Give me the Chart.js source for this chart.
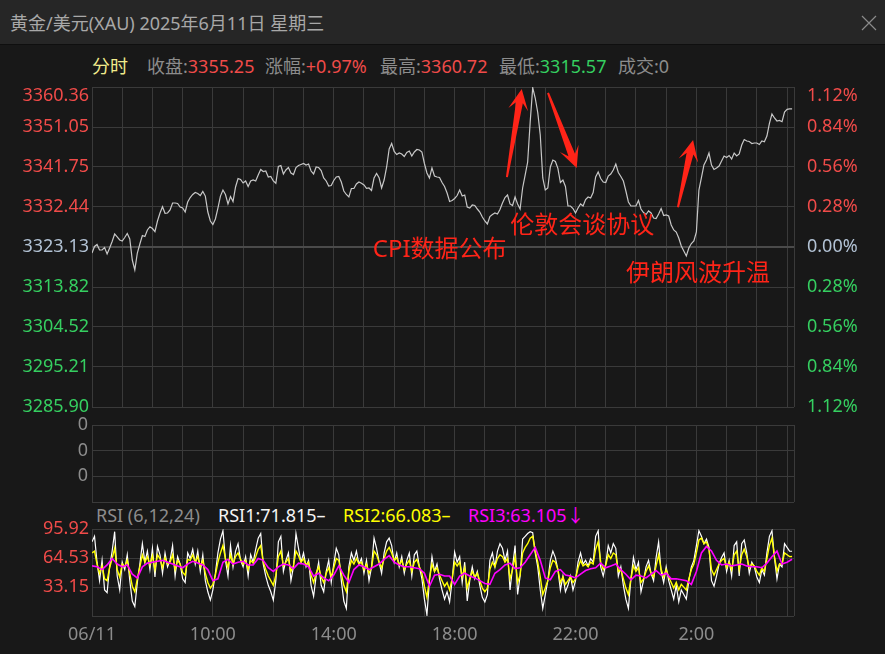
<!DOCTYPE html>
<html>
<head>
<meta charset="utf-8">
<script src="https://cdn.jsdelivr.net/npm/chart.js@4.4.1/dist/chart.umd.min.js"></script>
<style>
  body { margin: 0; width: 885px; height: 654px; overflow: hidden; position: relative;
         background: #181818; font-family: "Noto Sans", "Noto Sans CJK SC", sans-serif; }
  .titlebar { position: absolute; left: 0; top: 0; width: 885px; height: 44px; background: #262626; border-bottom: 1px solid #0f0f0f; }
  .title { position: absolute; left: 10px; top: 10px; font-size: 18px; line-height: 26px; color: #a8a8a8; white-space: nowrap; }
  .close { position: absolute; left: 861px; top: 15px; }
  .info, .legend { position: absolute; font-size: 18px; line-height: 26px; white-space: nowrap; }
  .info { top: 53px; }
  .legend { top: 502px; }
  .lbl { color: #8c8c8c; }
  .up { color: #f04b49; }
  .down { color: #35cf60; }
  canvas { position: absolute; left: 0; }
</style>
</head>
<body>
<div class="titlebar">
  <div class="title">黄金/美元(XAU) 2025年6月11日 星期三</div>
  <svg class="close" width="16" height="16"><path d="M1 1 L15 15 M15 1 L1 15" stroke="#8a8a8a" stroke-width="1.2"/></svg>
</div>

<div class="info" style="left:92px;color:#f0eb8c">分时</div>
<div class="info" style="left:147px"><span class="lbl">收盘:</span><span class="up">3355.25</span></div>
<div class="info" style="left:265px"><span class="lbl">涨幅:</span><span class="up">+0.97%</span></div>
<div class="info" style="left:380px"><span class="lbl">最高:</span><span class="up">3360.72</span></div>
<div class="info" style="left:499px"><span class="lbl">最低:</span><span class="down">3315.57</span></div>
<div class="info" style="left:618px"><span class="lbl">成交:0</span></div>

<div class="legend" style="left:96px;color:#8c8c8c">RSI (6,12,24)</div>
<div class="legend" style="left:218px;color:#f4f4f4">RSI1:71.815–</div>
<div class="legend" style="left:343px;color:#ffff00">RSI2:66.083–</div>
<div class="legend" style="left:468px;color:#ff00ff">RSI3:63.105↓</div>

<canvas id="priceChart" width="885" height="340" style="top:77px"></canvas>
<canvas id="volChart" width="885" height="97" style="top:415px"></canvas>
<canvas id="rsiChart" width="885" height="135" style="top:519px"></canvas>

<script>
// 时间轴：06:00 起，小时
const X_MAX = 23.23;
const hourTicks = [0,1,2,3,4,5,6,7,8,9,10,11,12,13,14,15,16,17,18,19,20,21,22,23,X_MAX];
const labelHours = [0, 4, 8, 12, 16, 20];
const timeLabels = ['06/11', '10:00', '14:00', '18:00', '22:00', '2:00'];

// 价格刻度
const priceTicks = [3285.90, 3295.21, 3304.52, 3313.82, 3323.13, 3332.44, 3341.75, 3351.05, 3360.36];
const pctLabels = ['1.12%', '0.84%', '0.56%', '0.28%', '0.00%', '0.28%', '0.56%', '0.84%', '1.12%'];
const PREV_CLOSE = 3323.13;

// 分时价格，每 5 分钟一个点
const PRICE_STEP_MIN = 5;
const price = [
  3321.73,3323.25,3323.71,3322.43,3322.43,3323.01,3321.50,3322.90,3324.41,3326.16,
  3325.46,3324.76,3324.53,3325.34,3326.27,3324.99,3320.10,3317.80,3321.73,3323.83,
  3325.81,3325.57,3327.09,3327.85,3327.43,3326.69,3329.18,3331.04,3332.51,3330.97,
  3331.04,3331.74,3333.37,3333.37,3333.25,3332.44,3332.20,3331.27,3333.60,3334.65,
  3335.35,3335.81,3335.58,3335.11,3336.04,3334.98,3331.27,3329.18,3328.37,3329.65,
  3332.20,3334.98,3336.39,3335.35,3333.14,3334.88,3333.72,3337.09,3339.07,3338.84,
  3338.02,3338.49,3337.21,3338.49,3338.72,3338.49,3339.88,3341.16,3340.70,3340.81,
  3339.42,3339.53,3338.49,3337.95,3341.86,3342.09,3340.12,3341.05,3341.63,3340.35,
  3340.00,3341.63,3342.09,3342.33,3342.56,3342.21,3342.44,3340.81,3340.12,3341.75,
  3341.63,3340.93,3339.19,3338.49,3337.32,3337.44,3338.60,3339.42,3339.53,3338.26,
  3336.16,3335.35,3334.77,3336.74,3336.74,3337.79,3338.26,3337.95,3337.56,3336.79,
  3336.86,3336.28,3339.19,3340.23,3339.26,3336.86,3338.72,3341.75,3345.93,3347.21,
  3345.35,3344.65,3345.00,3344.77,3344.19,3345.12,3345.47,3344.31,3345.24,3345.82,
  3345.70,3345.24,3342.56,3340.35,3339.19,3341.52,3339.65,3339.42,3339.30,3338.14,
  3337.21,3335.70,3333.72,3333.95,3334.42,3335.11,3336.39,3334.98,3335.23,3332.44,
  3332.20,3332.90,3332.79,3331.97,3331.27,3330.11,3329.18,3328.48,3330.23,3330.69,
  3331.04,3330.81,3331.86,3333.37,3334.65,3335.23,3333.14,3332.79,3334.77,3333.14,
  3331.97,3336.86,3339.88,3342.91,3352.22,3360.20,3357.80,3354.43,3349.19,3339.19,
  3336.39,3336.86,3341.75,3343.37,3343.03,3341.44,3338.14,3338.72,3337.21,3332.67,
  3332.67,3332.09,3331.04,3332.20,3333.14,3332.67,3334.18,3334.77,3334.53,3335.81,
  3339.42,3340.58,3339.07,3338.26,3338.14,3339.65,3340.12,3341.05,3342.44,3340.47,
  3339.53,3338.49,3336.16,3333.60,3332.67,3332.67,3332.67,3333.95,3331.97,3331.16,
  3330.69,3331.51,3331.04,3329.88,3329.76,3330.81,3332.09,3330.46,3330.58,3330.34,
  3328.25,3327.09,3326.62,3325.22,3323.36,3322.20,3321.04,3322.90,3323.94,3324.53,
  3326.62,3336.39,3339.30,3342.21,3343.37,3345.00,3342.21,3341.16,3341.51,3341.98,
  3343.14,3344.31,3343.96,3344.42,3343.61,3345.00,3344.31,3344.77,3346.86,3348.14,
  3347.79,3347.68,3347.21,3347.33,3347.33,3346.98,3347.79,3347.63,3348.96,3351.91,
  3354.08,3353.15,3352.45,3352.57,3352.29,3354.54,3355.17,3355.25,3355.25
];

// RSI(6,12,24)
const RSI_STEP_MIN = 5;
const RSI3_STEP_MIN = 10;
const rsiTicks = [1.77, 33.15, 64.53, 95.92];
const rsi1 = [
  82,88,60,40,62,30,27,55,72,93, 45,30,60,52,68,40,18,12,38,58,
  80,60,72,52,75,44,77,68,48,70, 55,62,78,45,66,58,42,38,70,64,
  74,58,72,50,68,40,28,19,30,48, 70,85,94,62,45,78,55,72,80,62,
  55,66,45,68,60,74,86,91,58,45, 35,28,19,40,82,88,50,62,70,40,
  55,91,75,60,70,55,62,35,23,45, 60,35,28,50,62,38,58,75,68,40,
  18,10,55,70,62,72,58,64,48,62, 40,55,86,75,60,48,70,82,86,78,
  60,70,55,66,48,62,70,45,68,72, 55,42,20,3,40,66,50,58,42,30,
  20,28,17,40,71,60,66,38,60,18, 40,55,42,50,35,22,17,25,62,70,
  55,72,80,75,62,72,30,55,78,25, 45,85,88,91,93,92,70,55,30,10,
  25,40,62,72,65,52,30,45,28,35, 45,30,40,60,70,58,62,56,64,60,
  88,94,55,45,58,78,70,80,75,45, 55,35,20,10,42,65,52,60,28,40,
  55,62,48,40,65,82,50,38,55,40, 30,20,35,17,30,25,20,40,55,62,
  78,94,88,80,85,76,40,34,45,58, 65,70,50,62,45,78,82,45,80,84,
  70,48,60,55,44,38,52,46,70,88, 94,65,42,58,55,80,76,72,71.82
];
const rsi2 = [
  70,72,58,48,56,42,40,54,64,75, 52,44,58,55,62,48,34,28,42,55,
  68,60,66,57,67,52,68,64,54,65, 58,60,68,52,62,58,49,46,63,62,
  68,60,66,55,62,48,38,32,36,46, 60,70,78,64,54,68,58,66,70,63,
  58,62,52,62,59,66,74,78,60,52, 45,40,35,46,66,72,56,60,64,50,
  56,72,67,60,64,57,60,46,38,48, 55,44,38,48,54,44,54,64,62,48,
  35,28,50,62,58,64,58,60,52,58, 48,54,72,68,60,54,64,72,76,70,
  62,65,57,62,52,58,62,50,60,63, 55,48,34,22,42,58,50,54,46,40,
  34,38,30,42,60,56,60,44,54,32, 42,50,44,48,40,32,28,32,52,60,
  55,64,68,66,60,64,42,52,66,38, 46,70,76,80,86,88,72,60,44,25,
  32,40,54,62,60,52,38,44,36,40, 44,38,42,54,62,56,58,55,60,58,
  74,82,60,52,57,68,64,70,68,50, 52,42,32,25,42,56,50,54,38,42,
  50,56,48,44,56,68,52,44,52,44, 38,32,38,30,36,33,30,42,52,58,
  70,84,86,80,82,74,52,46,52,58, 62,64,54,60,52,68,72,52,68,74,
  66,54,58,56,50,46,54,50,64,78, 86,66,50,58,58,70,68,66,66.08
];
const rsi3 = [
  56,55,52,57,64,58,55,57,47,43, 55,59,60,61,62,60,58,56,54,58,
  61,59,57,52,40,42,60,63,58,60, 61,57,57,64,62,54,50,55,58,57,
  53,59,58,55,45,48,43,40,46,56, 46,38,52,57,55,52,55,58,63,67,
  60,57,55,55,54,53,48,34,46,47, 45,45,36,45,48,45,43,40,37,36,
  48,52,57,59,53,54,60,68,76,62, 43,41,50,52,46,45,43,47,51,53,
  54,59,54,56,58,52,47,41,46,45, 43,47,51,46,48,42,42,41,40,36,
  50,70,77,72,62,57,58,56,57,58, 56,55,55,54,59,66,72,58,60,63.11
];

// 事件标注（小时, 价格）
const notes = [
  { text: 'CPI数据公布', hour: 9.29, price: 3322.4 },
  { text: '伦敦会谈协议', hour: 13.84, price: 3328.0 },
  { text: '伊朗风波升温', hour: 17.67, price: 3316.85 }
];
const arrows = [
  { from: [13.73, 3339.4], to: [14.22, 3359.9] },
  { from: [15.09, 3359.0], to: [16.04, 3341.5] },
  { from: [19.39, 3332.4], to: [19.89, 3348.0] }
];

const GRID = '#3a3a3a';
const RED = '#f04b49';
const GREEN = '#35cf60';
const ZERO = '#b2c2d4';
const GRAY = '#8c8c8c';
const NOTE_RED = '#ff2418';
const FONT = '"Noto Sans", "Noto Sans CJK SC", sans-serif';

const toPoints = (arr, stepMin) => arr.map((v, i) => ({ x: i * stepMin / 60, y: v }));
const setTicks = values => scale => { scale.ticks = values.map(v => ({ value: v })); };
const noPad = s => { s.paddingTop = 0; s.paddingBottom = 0; s.paddingLeft = 0; s.paddingRight = 0; };

function xScale(showLabels) {
  return {
    type: 'linear', min: 0, max: X_MAX,
    afterBuildTicks: setTicks(hourTicks),
    grid: { color: GRID, drawTicks: false },
    border: { display: false },
    ticks: {
      display: showLabels, autoSkip: false, maxRotation: 0, padding: 8,
      color: GRAY, font: { family: FONT, size: 18 },
      callback: v => { const k = labelHours.indexOf(v); return k >= 0 ? timeLabels[k] : ''; }
    },
    afterFit: s => { s.height = showLabels ? 38 : 0; noPad(s); }
  };
}

const eventMarks = {
  id: 'eventMarks',
  afterDatasetsDraw(chart) {
    const { ctx, scales: { x, y } } = chart;
    ctx.save();
    ctx.fillStyle = NOTE_RED;
    arrows.forEach(a => {
      const x0 = x.getPixelForValue(a.from[0]), y0 = y.getPixelForValue(a.from[1]);
      const x1 = x.getPixelForValue(a.to[0]), y1 = y.getPixelForValue(a.to[1]);
      const len = Math.hypot(x1 - x0, y1 - y0);
      const ux = (x1 - x0) / len, uy = (y1 - y0) / len;
      const shape = [[0, -1], [len - 14, -3.5], [len - 21, -10], [len, 0], [len - 21, 10], [len - 14, 3.5], [0, 1]];
      ctx.beginPath();
      shape.forEach(([u, v], k) => {
        const px = x0 + ux * u - uy * v, py = y0 + uy * u + ux * v;
        if (k) ctx.lineTo(px, py); else ctx.moveTo(px, py);
      });
      ctx.closePath();
      ctx.fill();
    });
    ctx.font = '24px ' + FONT;
    ctx.textBaseline = 'middle';
    notes.forEach(n => ctx.fillText(n.text, x.getPixelForValue(n.hour), y.getPixelForValue(n.price)));
    ctx.restore();
  }
};

const base = {
  responsive: false,
  animation: false,
  events: [],
  plugins: { legend: { display: false }, tooltip: { enabled: false } }
};

// 价格走势
new Chart(document.getElementById('priceChart'), {
  type: 'line',
  data: {
    datasets: [{
      data: toPoints(price, PRICE_STEP_MIN),
      borderColor: '#c8c8c8', borderWidth: 1.2, pointRadius: 0, tension: 0
    }]
  },
  options: {
    ...base,
    layout: { padding: { top: 10, bottom: 10 } },
    scales: {
      x: xScale(false),
      y: {
        position: 'left', min: priceTicks[0], max: priceTicks[8],
        afterBuildTicks: setTicks(priceTicks),
        border: { display: false },
        grid: {
          drawTicks: false,
          color: c => c.tick && c.tick.value === PREV_CLOSE ? '#4a4a4a' : GRID,
          lineWidth: c => c.tick && c.tick.value === PREV_CLOSE ? 2 : 1
        },
        ticks: {
          autoSkip: false, padding: 3, font: { family: FONT, size: 18, lineHeight: 1 },
          color: c => c.index < 4 ? GREEN : c.index === 4 ? ZERO : RED,
          callback: (v, i) => i === 8 ? ['', v.toFixed(2)] : v.toFixed(2)
        },
        afterFit: s => { s.width = 92; noPad(s); }
      },
      pct: {
        position: 'right', min: priceTicks[0], max: priceTicks[8],
        afterBuildTicks: setTicks(priceTicks),
        border: { display: false },
        grid: { display: false },
        ticks: {
          autoSkip: false, padding: 5, font: { family: FONT, size: 18, lineHeight: 1 },
          color: c => c.index < 4 ? GREEN : c.index === 4 ? ZERO : RED,
          callback: (v, i) => i === 8 ? ['', pctLabels[i]] : pctLabels[i]
        },
        afterFit: s => { s.width = 91; noPad(s); }
      }
    }
  },
  plugins: [eventMarks]
});

// 成交量（空）
new Chart(document.getElementById('volChart'), {
  type: 'line',
  data: { datasets: [] },
  options: {
    ...base,
    layout: { padding: { top: 10, bottom: 10, right: 91 } },
    scales: {
      x: xScale(false),
      y: {
        position: 'left', min: 0, max: 3,
        afterBuildTicks: setTicks([0, 1, 2, 3]),
        border: { display: false },
        grid: { color: GRID, drawTicks: false },
        ticks: { autoSkip: false, padding: 4, color: GRAY, font: { family: FONT, size: 18 }, callback: v => v === 0 ? '' : '0' },
        afterFit: s => { s.width = 92; noPad(s); }
      }
    }
  }
});

// RSI
new Chart(document.getElementById('rsiChart'), {
  type: 'line',
  data: {
    datasets: [
      { data: toPoints(rsi3, RSI3_STEP_MIN), borderColor: '#ff00ff', borderWidth: 1.6, pointRadius: 0, order: 1 },
      { data: toPoints(rsi2, RSI_STEP_MIN), borderColor: '#ffff00', borderWidth: 1.4, pointRadius: 0, order: 2 },
      { data: toPoints(rsi1, RSI_STEP_MIN), borderColor: '#ffffff', borderWidth: 1.2, pointRadius: 0, order: 3 }
    ]
  },
  options: {
    ...base,
    layout: { padding: { top: 10, bottom: 0, right: 91 } },
    scales: {
      x: xScale(true),
      y: {
        position: 'left', min: rsiTicks[0], max: rsiTicks[3],
        afterBuildTicks: setTicks(rsiTicks),
        border: { display: false },
        grid: { color: GRID, drawTicks: false },
        ticks: { autoSkip: false, padding: 3, color: RED, font: { family: FONT, size: 18 }, callback: (v, i) => i === 0 ? '' : v.toFixed(2) },
        afterFit: s => { s.width = 92; noPad(s); }
      }
    }
  }
});
</script>
</body>
</html>
